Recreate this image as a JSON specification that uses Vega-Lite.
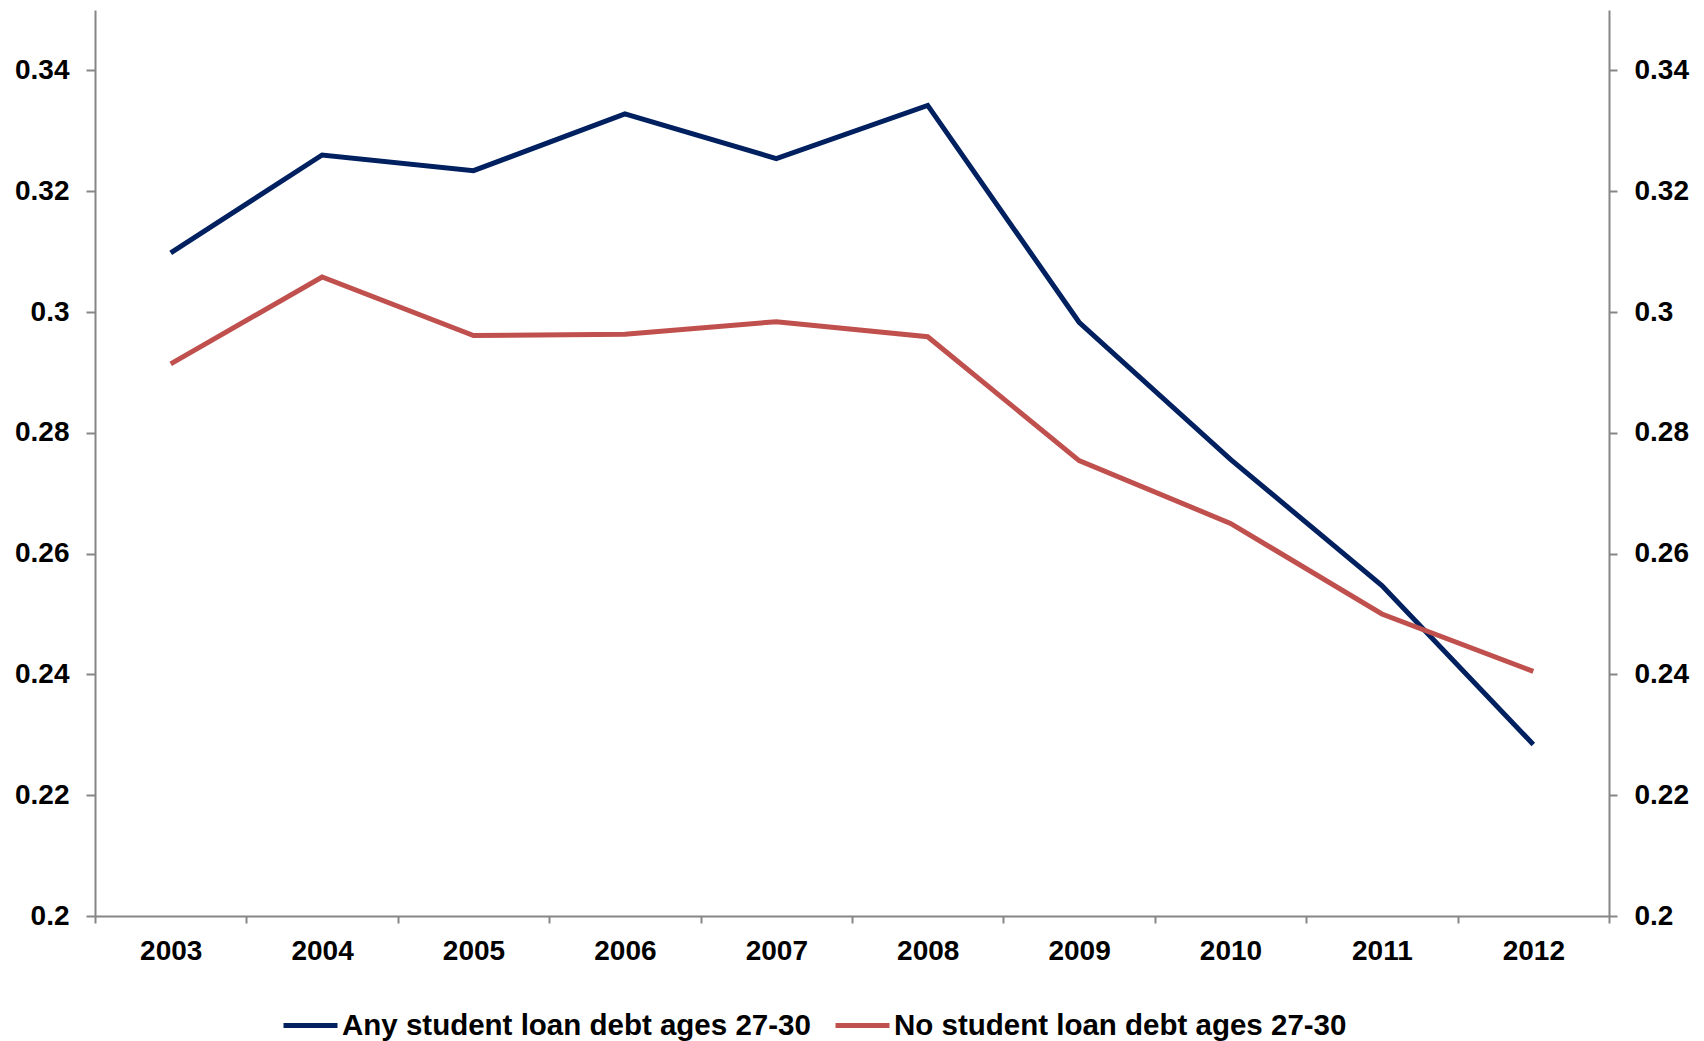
{
  "$schema": "https://vega.github.io/schema/vega-lite/v6.json",
  "autosize": {"type": "none"},
  "width": 1514,
  "height": 906,
  "padding": {"left": 95, "top": 10, "right": 95, "bottom": 125},
  "background": "white",
  "config": {
    "view": {"stroke": null},
    "font": "Liberation Sans",
    "axis": {
      "labelFont": "Liberation Sans",
      "labelFontWeight": "bold",
      "labelFontSize": 28,
      "labelColor": "#000000",
      "domainColor": "#868686",
      "domainWidth": 2,
      "tickColor": "#868686",
      "tickWidth": 2,
      "grid": false,
      "title": null
    }
  },
  "data": {
    "values": [
      {"year": "2003", "series": "Any student loan debt ages 27-30", "value": 0.3098},
      {"year": "2004", "series": "Any student loan debt ages 27-30", "value": 0.3260},
      {"year": "2005", "series": "Any student loan debt ages 27-30", "value": 0.3234},
      {"year": "2006", "series": "Any student loan debt ages 27-30", "value": 0.3328},
      {"year": "2007", "series": "Any student loan debt ages 27-30", "value": 0.3254},
      {"year": "2008", "series": "Any student loan debt ages 27-30", "value": 0.3342},
      {"year": "2009", "series": "Any student loan debt ages 27-30", "value": 0.2983},
      {"year": "2010", "series": "Any student loan debt ages 27-30", "value": 0.2756},
      {"year": "2011", "series": "Any student loan debt ages 27-30", "value": 0.2547},
      {"year": "2012", "series": "Any student loan debt ages 27-30", "value": 0.2284},
      {"year": "2003", "series": "No student loan debt ages 27-30", "value": 0.2914},
      {"year": "2004", "series": "No student loan debt ages 27-30", "value": 0.3058},
      {"year": "2005", "series": "No student loan debt ages 27-30", "value": 0.2961},
      {"year": "2006", "series": "No student loan debt ages 27-30", "value": 0.2963},
      {"year": "2007", "series": "No student loan debt ages 27-30", "value": 0.2984},
      {"year": "2008", "series": "No student loan debt ages 27-30", "value": 0.2959},
      {"year": "2009", "series": "No student loan debt ages 27-30", "value": 0.2754},
      {"year": "2010", "series": "No student loan debt ages 27-30", "value": 0.2650},
      {"year": "2011", "series": "No student loan debt ages 27-30", "value": 0.2500},
      {"year": "2012", "series": "No student loan debt ages 27-30", "value": 0.2405}
    ]
  },
  "encoding": {
    "x": {
      "field": "year",
      "type": "ordinal",
      "scale": {"type": "band", "paddingInner": 0, "paddingOuter": 0},
      "axis": {"labelAngle": 0, "tickBand": "extent", "tickSize": 7, "labelPadding": 14}
    },
    "y": {
      "field": "value",
      "type": "quantitative",
      "scale": {"domain": [0.2, 0.35], "nice": false, "zero": false}
    },
    "color": {
      "field": "series",
      "type": "nominal",
      "scale": {
        "domain": ["Any student loan debt ages 27-30", "No student loan debt ages 27-30"],
        "range": ["#002060", "#C0504D"]
      },
      "legend": {
        "title": null,
        "orient": "none",
        "direction": "horizontal",
        "legendX": 186,
        "legendY": 986,
        "padding": 0,
        "symbolType": "stroke",
        "symbolSize": 2916,
        "symbolStrokeWidth": 5,
        "labelFont": "Liberation Sans",
        "labelFontWeight": "bold",
        "labelFontSize": 29.5,
        "labelColor": "#000000",
        "labelOffset": 2,
        "columnPadding": 14,
        "labelLimit": 1000
      }
    }
  },
  "layer": [
    {
      "mark": {"type": "line", "strokeWidth": 5},
      "encoding": {
        "y": {
          "field": "value",
          "type": "quantitative",
          "axis": {
            "orient": "left",
            "values": [0.2, 0.22, 0.24, 0.26, 0.28, 0.3, 0.32, 0.34],
            "format": ".2~f",
            "tickSize": 9,
            "labelPadding": 17
          }
        }
      }
    },
    {
      "mark": {"type": "line", "strokeWidth": 5, "opacity": 0},
      "encoding": {
        "y": {
          "field": "value",
          "type": "quantitative",
          "axis": {
            "orient": "right",
            "values": [0.2, 0.22, 0.24, 0.26, 0.28, 0.3, 0.32, 0.34],
            "format": ".2~f",
            "tickSize": 8,
            "labelPadding": 17
          }
        }
      }
    }
  ],
  "resolve": {"axis": {"y": "independent"}}
}
